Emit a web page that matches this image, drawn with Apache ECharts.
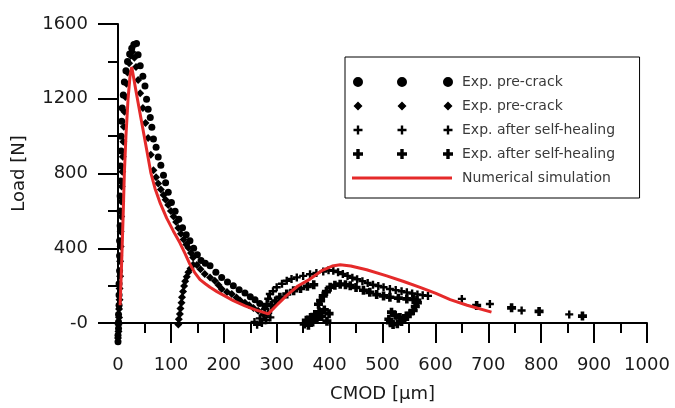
<!DOCTYPE html>
<html><head><meta charset="utf-8">
<script src="https://cdn.jsdelivr.net/npm/echarts@6/dist/echarts.min.js"></script>
<style>html,body{margin:0;padding:0;background:#fff}#c{width:675px;height:408px}</style>
</head><body><div id="c"></div>
<script>
// ---- data (CMOD [µm], Load [N]) ----
const seriesNames = ['Exp. pre-crack', 'Exp. pre-crack ', 'Exp. after self-healing', 'Exp. after self-healing ', 'Numerical simulation'];

const preCrackA = [
  [0,-100],[0,-65],[1,-30],[1,5],[1,45],[2,95],[2,150],[2,210],[3,280],[3,360],[3,440],[4,520],[4,600],[4,680],[5,760],[5,840],[6,920],[6,1000],[7,1080],[8,1150],[10,1220],[12,1290],[15,1350],[18,1400],[22,1440],[26,1470],[30,1490],[35,1495],
  [38,1436],[42,1377],[47,1321],[51,1268],[54,1197],[57,1144],[61,1100],[64,1047],[67,985],[72,941],[76,888],[81,844],[86,791],[90,750],[95,700],[101,645],[108,598],[115,555],[122,510],[129,472],[136,440],[143,400],[150,365],[157,335],[165,320],[174,306],[185,272],[196,244],[207,220],[218,200],[229,178],[240,160],[250,140],[259,124],[268,105],[278,88]
];
const preCrackB = [
  [0,-80],[1,-45],[1,-10],[2,30],[2,75],[3,125],[3,185],[4,250],[4,330],[5,410],[5,490],[6,570],[6,650],[7,730],[8,810],[9,890],[10,970],[11,1050],[12,1130],[14,1210],[16,1280],[18,1340],[21,1390],[24,1430],[27,1450],[31,1420],
  [34,1370],[38,1300],[42,1230],[47,1150],[52,1070],[57,990],[62,900],[67,818],[72,780],[76,747],[81,715],[86,685],[90,660],[95,632],[100,600],[105,570],[110,540],[114,508],[119,478],[124,447],[129,420],[133,403],[138,375],[142,350],[149,310],[156,288],[164,262],[174,244],[183,226],[190,203],[196,182],[206,166],[215,155],[224,136],[231,120],[240,108],[248,95],[256,80],[265,65],[275,48],
  [114,-8],[115,20],[117,48],[118,78],[120,108],[121,138],[123,168],[125,198],[127,224],[130,248],[133,272],[137,292],[142,312]
];
const healedA = [
  [258,5],[263,-10],[268,25],[272,0],[276,40],[280,15],[284,55],[288,30],[278,75],[281,102],[284,130],[287,155],[293,170],[300,191],[310,210],[319,226],[328,236],[338,244],[350,252],[363,261],[375,268],[388,275],[398,282],[407,280],[416,272],[425,262],[434,252],[443,242],[452,234],[462,224],[472,214],[482,205],[492,198],[502,191],[514,182],[525,176],[536,170],[546,164],[556,158],[566,153],[576,149],[586,145],
  [650,129],[703,102],[763,67],[853,46]
];
const healedB = [
  [290,95],[298,118],[306,138],[319,155],[332,173],[345,185],[358,196],[370,205],
  [352,-5],[356,15],[360,-12],[364,30],[368,5],[372,45],[376,20],[380,60],[385,35],[390,70],[395,10],[399,50],
  [379,100],[383,120],[388,145],[394,168],[401,191],[410,202],[420,208],[430,205],[439,200],[450,190],[464,175],[476,164],[489,152],[502,145],[514,138],[530,133],[546,129],[558,126],[565,122],
  [566,108],[562,88],[558,67],[552,50],[545,38],[533,30],[524,42],[517,58],[512,20],[515,2],[520,-8],[528,-4],[536,8],[542,20],
  [678,94],[744,81],[796,62],[878,37]
];
const simulation = [
  [4,95],[6,250],[8,420],[10,600],[12,800],[15,1000],[19,1200],[23,1330],[26,1370],[35,1225],[45,1070],[55,915],[62,805],[70,720],[80,640],[92,561],[105,490],[117,429],[127,370],[136,314],[145,270],[155,232],[165,210],[174,191],[187,168],[200,148],[218,120],[240,92],[260,70],[284,49],[300,95],[319,148],[340,198],[363,235],[385,280],[405,305],[420,312],[440,305],[470,285],[508,252],[540,222],[571,191],[601,158],[628,125],[660,95],[706,58]
];

// ---- legend icon paths (3 markers per row) ----
const CORNERS = 'M0,0L0.01,0Z M105,14L104.99,14Z ';
const CENTERS = [6, 50, 96];
function circleIcon(r){ return 'path://' + CORNERS + CENTERS.map(c => `M${c-r},7A${r},${r},0,1,0,${c+r},7A${r},${r},0,1,0,${c-r},7Z`).join(' '); }
function diamondIcon(h){ return 'path://' + CORNERS + CENTERS.map(c => `M${c},${7-h}L${c+h},7L${c},${7+h}L${c-h},7Z`).join(' '); }
function crossIcon(a, t){ return 'path://' + CORNERS + CENTERS.map(c => `M${c-t},${7-a}L${c+t},${7-a}L${c+t},${7-t}L${c+a},${7-t}L${c+a},${7+t}L${c+t},${7+t}L${c+t},${7+a}L${c-t},${7+a}L${c-t},${7+t}L${c-a},${7+t}L${c-a},${7-t}L${c-t},${7-t}Z`).join(' '); }
const lineIcon = 'path://' + CORNERS + 'M0,5.5L100,5.5L100,8.5L0,8.5Z';

const crossSym = 'path://M2.1,0L3.9,0L3.9,2.1L6,2.1L6,3.9L3.9,3.9L3.9,6L2.1,6L2.1,3.9L0,3.9L0,2.1L2.1,2.1Z';
const boldCrossSym = 'path://M1.8,0L4.2,0L4.2,1.8L6,1.8L6,4.2L4.2,4.2L4.2,6L1.8,6L1.8,4.2L0,4.2L0,1.8L1.8,1.8Z';

const FONT = 'DejaVu Sans';
const BLACK = {color: '#000', opacity: 1};
const chart = echarts.init(document.getElementById('c'), null, {renderer: 'canvas'});
chart.setOption({
  animation: false,
  backgroundColor: '#fff',
  grid: {left: 118, right: 28, top: 24, bottom: 82, containLabel: false},
  legend: {
    orient: 'vertical', left: 345, top: 57,
    padding: [18, 20, 13, 7], itemGap: 10, itemWidth: 105, itemHeight: 14,
    borderColor: '#000', borderWidth: 1, selectedMode: false,
    textStyle: {fontFamily: FONT, fontSize: 14, color: '#3a3a3a'},
    data: [
      {name: seriesNames[0], icon: circleIcon(5)},
      {name: seriesNames[1], icon: diamondIcon(4.5)},
      {name: seriesNames[2], icon: crossIcon(4.5, 1.2)},
      {name: seriesNames[3], icon: crossIcon(5, 1.7)},
      {name: seriesNames[4], icon: lineIcon}
    ]
  },
  xAxis: {
    type: 'value', min: 0, max: 1000, interval: 100,
    name: 'CMOD [µm]', nameLocation: 'middle', nameGap: 62,
    nameTextStyle: {fontFamily: FONT, fontSize: 18, color: '#1a1a1a'},
    axisLine: {show: true, onZero: false, lineStyle: {color: '#000', width: 2}},
    axisTick: {show: true, inside: false, length: 20, lineStyle: {color: '#000', width: 2}},
    minorTick: {show: true, splitNumber: 2, length: 10, lineStyle: {color: '#000', width: 2}},
    axisLabel: {margin: 33, fontFamily: FONT, fontSize: 18, color: '#1a1a1a', formatter: v => String(v)},
    splitLine: {show: false}
  },
  yAxis: {
    type: 'value', min: 0, max: 1600, interval: 400,
    name: 'Load [N]', nameLocation: 'middle', nameGap: 90, nameRotate: 90,
    nameTextStyle: {fontFamily: FONT, fontSize: 18, color: '#1a1a1a'},
    axisLine: {show: true, onZero: false, lineStyle: {color: '#000', width: 2}},
    axisTick: {show: true, inside: false, length: 20, lineStyle: {color: '#000', width: 2}},
    minorTick: {show: true, splitNumber: 2, length: 10, lineStyle: {color: '#000', width: 2}},
    axisLabel: {margin: 30, fontFamily: FONT, fontSize: 18, color: '#1a1a1a', formatter: v => v === 0 ? '-0' : String(v)},
    splitLine: {show: false}
  },
  series: [
    {name: seriesNames[0], type: 'scatter', data: preCrackA, symbol: 'circle', symbolSize: 7, clip: false, itemStyle: BLACK},
    {name: seriesNames[1], type: 'scatter', data: preCrackB, symbol: 'diamond', symbolSize: 8, clip: false, itemStyle: BLACK},
    {name: seriesNames[2], type: 'scatter', data: healedA, symbol: crossSym, symbolSize: 8, clip: false, itemStyle: BLACK},
    {name: seriesNames[3], type: 'scatter', data: healedB, symbol: boldCrossSym, symbolSize: 9, clip: false, itemStyle: BLACK},
    {name: seriesNames[4], type: 'line', data: simulation, symbol: 'none', smooth: false, clip: false,
      itemStyle: {color: '#e52a2a', opacity: 1}, lineStyle: {color: '#e52a2a', width: 3, opacity: 1}}
  ]
});
</script></body></html>
